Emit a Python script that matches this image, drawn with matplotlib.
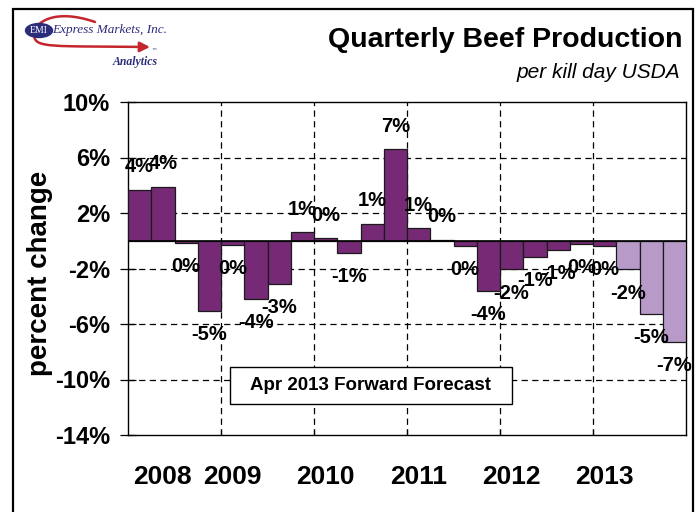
import matplotlib
matplotlib.use("Agg")
import matplotlib.pyplot as plt
from matplotlib.patches import Rectangle, Ellipse, FancyArrowPatch
from matplotlib.path import Path

# Quarterly change in beef production, 2008 Q1 .. 2013 Q4 (percent)
quarters = [f"{y} Q{q}" for y in range(2008, 2014) for q in range(1, 5)]
pct_change = [3.67, 3.88, -0.13, -5.03,
              -0.31, -4.19, -3.12, 0.62,
              0.19, -0.90, 1.24, 6.59,
              0.90, 0.09, -0.38, -3.64,
              -2.07, -1.19, -0.64, -0.24,
              -0.36, -2.07, -5.26, -7.30]
is_forecast = [False] * 21 + [True] * 3
year_labels = ["2008", "2009", "2010", "2011", "2012", "2013"]
year_label_pos = [1, 4, 8, 12, 16, 20]
y_ticks = [10, 6, 2, -2, -6, -10, -14]

ACTUAL = "#762A76"
FORECAST = "#B89AC9"
FONT = ["Liberation Sans", "DejaVu Sans"]
plt.rcParams["font.family"] = FONT

W, H = 700, 512
fig = plt.figure(figsize=(W / 100, H / 100), dpi=100)


def fx(px):
    return px / W


def fy(py):
    return 1 - py / H


ax = fig.add_axes([fx(128), fy(435), fx(686) - fx(128), fy(102) - fy(435)])

x = list(range(len(pct_change)))
colors = [FORECAST if f else ACTUAL for f in is_forecast]
ax.bar(x, pct_change, width=1.0, color=colors, edgecolor="#1a1a1a",
       linewidth=0.9, zorder=3)

ax.set_xlim(-0.5, len(pct_change) - 0.5)
ax.set_ylim(-14, 10)
ax.set_yticks(y_ticks)
ax.set_yticklabels([f"{t}%" for t in y_ticks], fontsize=17, fontweight="bold")
ax.tick_params(axis="y", direction="inout", length=12, width=0.9, pad=7)

# Year boundaries: every fourth bar
bounds = [3.5, 7.5, 11.5, 15.5, 19.5]
ax.set_xticks(bounds)
ax.set_xticklabels([])
ax.tick_params(axis="x", direction="in", length=4.5, width=0.9)

dash = (0, (5, 3.5))
for yv in y_ticks[1:-1]:
    ax.axhline(yv, color="black", lw=0.9, linestyle=dash, zorder=1)
for xv in bounds:
    ax.axvline(xv, color="black", lw=0.9, linestyle=dash, zorder=1)
ax.axhline(0, color="black", lw=1.2, zorder=4)

for s in ax.spines.values():
    s.set_linewidth(1.0)
    s.set_color("black")

# Value labels
for xi, v in zip(x, pct_change):
    r = int(round(v))
    text = "0%" if r == 0 else f"{r}%"
    off = 16.5 if v >= 0 else -17
    ax.annotate(text, xy=(xi, v), xytext=(0, off), textcoords="offset points",
                ha="center", va="center", fontsize=14.5, fontweight="bold", zorder=5)

# Year labels under the axis
for lab, pos in zip(year_labels, year_label_pos):
    ax.annotate(lab, xy=(pos, 0), xycoords=("data", "axes fraction"),
                xytext=(0, -30), textcoords="offset points",
                ha="center", va="center", fontsize=19, fontweight="bold")

# Axis title
fig.text(fx(40), fy(273), "percent change", rotation=90, ha="center", va="center",
         fontsize=20, fontweight="bold")

# Forecast note box
fig.add_artist(Rectangle((fx(230), fy(404)), fx(512) - fx(230), fy(367) - fy(404),
                         transform=fig.transFigure, facecolor="white",
                         edgecolor="black", linewidth=1.0, zorder=6))
fig.text(fx(371), fy(386), "Apr 2013 Forward Forecast", ha="center", va="center",
         fontsize=13.5, fontweight="bold", zorder=7)

# Titles
fig.text(fx(683), fy(40), "Quarterly Beef Production", ha="right", va="center",
         fontsize=20.5, fontweight="bold")
fig.text(fx(680), fy(73), "per kill day USDA", ha="right", va="center",
         fontsize=15, style="italic")

# Company logo
NAVY = "#2B2C7C"
RED = "#C4262E"
swoosh = Path([(fx(95), fy(22)), (fx(55), fy(8)), (fx(33), fy(22)),
               (fx(34), fy(36)), (fx(36), fy(48)), (fx(50), fy(46)),
               (fx(150), fy(47))],
              [Path.MOVETO, Path.CURVE4, Path.CURVE4, Path.CURVE4,
               Path.CURVE4, Path.CURVE4, Path.CURVE4])
fig.add_artist(FancyArrowPatch(path=swoosh, transform=fig.transFigure,
                               arrowstyle="-|>,head_length=6,head_width=3",
                               color=RED, linewidth=1.8, zorder=2))
fig.add_artist(Ellipse((fx(39), fy(30.5)), fx(27), fy(0) - fy(14),
                       transform=fig.transFigure, facecolor=NAVY,
                       edgecolor=NAVY, zorder=3))
fig.text(fx(39), fy(30.5), "EMI", ha="center", va="center", color="white",
         fontsize=7, family="Liberation Serif", zorder=4)
fig.text(fx(52), fy(30), "Express Markets, Inc.", ha="left", va="center",
         color=NAVY, fontsize=9.5, family="Liberation Serif", style="italic", zorder=4)
fig.text(fx(151), fy(52), "™", ha="left", va="center", color=NAVY,
         fontsize=4, family="DejaVu Sans")
fig.text(fx(158), fy(62), "Analytics", ha="right", va="center", color=NAVY,
         fontsize=8.5, family="Liberation Serif", style="italic", fontweight="bold")

# Outer frame (open at the bottom edge of the image)
fig.add_artist(Rectangle((fx(13), -0.05), fx(693) - fx(13), fy(9) + 0.05,
                         transform=fig.transFigure, fill=False,
                         edgecolor="black", linewidth=1.6, zorder=10))

fig.savefig("out.png", dpi=100)
